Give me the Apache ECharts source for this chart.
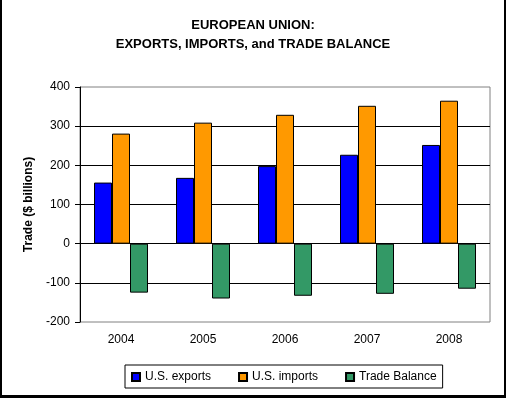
<!DOCTYPE html>
<html>
<head>
<meta charset="utf-8">
<script src="https://cdn.jsdelivr.net/npm/echarts@6/dist/echarts.min.js"></script>
<style>
  html, body { margin: 0; padding: 0; background: #fff; }
  #chart { position: absolute; left: 0; top: 0; width: 506px; height: 398px; }
  #frame {
    position: absolute; left: 0; top: 0; width: 506px; height: 398px;
    box-sizing: border-box; pointer-events: none;
    border-left: 2px solid #000; border-right: 2px solid #000; border-bottom: 3px solid #000;
  }
</style>
</head>
<body>
<div id="chart"></div>
<div id="frame"></div>
<script>
const years = ['2004', '2005', '2006', '2007', '2008']
const usExports = [156, 168, 198, 227, 252]
const usImports = [281, 309, 329, 352, 365]
const tradeBalance = [-125, -140, -133, -128, -115]

const font = 'Liberation Sans, Arial, sans-serif'
const myChart = echarts.init(document.getElementById('chart'))

const barStyle = (color) => ({
  color: color,
  borderColor: '#000',
  borderWidth: 1
})

let option = {
  animation: false,
  title: {
    text: 'EUROPEAN UNION:\nEXPORTS, IMPORTS, and TRADE BALANCE',
    left: 'center',
    top: 11,
    textStyle: {
      fontFamily: font,
      fontSize: 13,
      fontWeight: 'bold',
      color: '#000',
      lineHeight: 19
    }
  },
  legend: {
    data: ['U.S. exports', 'U.S. imports', 'Trade Balance'],
    icon: 'rect',
    left: 125,
    top: 365,
    padding: [6, 6, 5, 6],
    borderColor: '#000',
    borderWidth: 1,
    itemWidth: 8,
    itemHeight: 8,
    itemGap: 27,
    itemTextGap: 3,
    textStyle: { fontFamily: font, fontSize: 12, color: '#000' }
  },
  grid: {
    left: 80,
    right: 16,
    top: 87,
    bottom: 76,
    show: true,
    borderColor: '#808080',
    borderWidth: 1
  },
  xAxis: {
    type: 'category',
    data: years,
    axisLine: { show: false },
    axisTick: { show: false },
    axisLabel: { margin: 12, fontFamily: font, fontSize: 12, color: '#000' }
  },
  yAxis: {
    type: 'value',
    min: -200,
    max: 400,
    interval: 100,
    name: 'Trade ($ billions)',
    nameLocation: 'middle',
    nameGap: 44,
    nameTextStyle: { fontFamily: font, fontSize: 12, fontWeight: 'bold', color: '#000' },
    axisLine: { show: true, lineStyle: { color: '#000' } },
    axisTick: { show: true, length: 5, lineStyle: { color: '#000' } },
    axisLabel: { margin: 10, fontFamily: font, fontSize: 12, color: '#000' },
    splitLine: {
      show: true,
      showMinLine: false,
      showMaxLine: false,
      lineStyle: { color: '#000' }
    }
  },
  series: [
    {
      name: 'U.S. exports',
      type: 'bar',
      barWidth: 18,
      barGap: '0%',
      itemStyle: barStyle('#0000FF'),
      data: usExports
    },
    {
      name: 'U.S. imports',
      type: 'bar',
      barWidth: 18,
      barGap: '0%',
      itemStyle: barStyle('#FF9900'),
      data: usImports
    },
    {
      name: 'Trade Balance',
      type: 'bar',
      barWidth: 18,
      barGap: '0%',
      itemStyle: barStyle('#339966'),
      data: tradeBalance
    }
  ]
}
myChart.setOption(option)
</script>
</body>
</html>
